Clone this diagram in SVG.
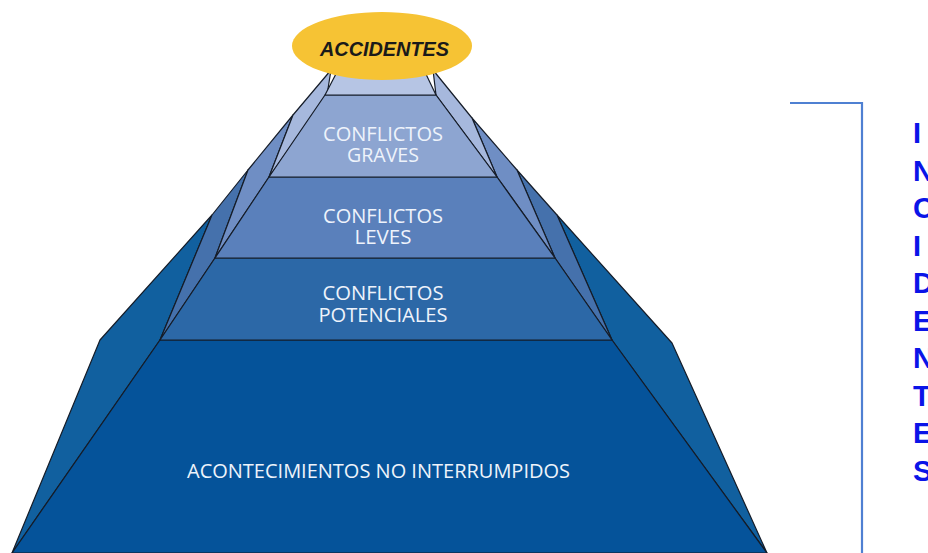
<svg xmlns="http://www.w3.org/2000/svg" width="928" height="553" viewBox="0 0 928 553">
<style>
.face{stroke:#151c28;stroke-width:1.2;stroke-linejoin:round}
.lbl{font-family:"Open Sans","Liberation Sans",sans-serif;font-size:20px;fill:#eef3fb;text-anchor:middle}
.side{font-family:"Liberation Sans",Arial,sans-serif;font-weight:bold;font-size:29px;fill:#0a14e8}
</style>
<rect width="928" height="553" fill="#ffffff"/>
<g id="layer-base">
<polygon class="face" fill="#11609f" points="160,340 212,215 100,340 12,553"/>
<polygon class="face" fill="#11609f" points="612,340 557,215 672,343 767,553"/>
<polygon class="face" fill="#05539a" points="160,340 612,340 767,553 12,553"/>
<text class="lbl" x="378.5" y="478" textLength="383" lengthAdjust="spacingAndGlyphs">ACONTECIMIENTOS NO INTERRUMPIDOS</text>
</g>
<g id="layer-potenciales">
<polygon class="face" fill="#4571ac" points="160,340 212,215 248,170 215,258"/>
<polygon class="face" fill="#4571ac" points="612,340 557,215 517,170 555,258"/>
<polygon class="face" fill="#2c68a7" points="215,258 555,258 612,340 160,340"/>
<text class="lbl" x="383" y="300" textLength="121" lengthAdjust="spacingAndGlyphs">CONFLICTOS</text>
<text class="lbl" x="383" y="322" textLength="129" lengthAdjust="spacingAndGlyphs">POTENCIALES</text>
</g>
<g id="layer-leves">
<polygon class="face" fill="#6f8ec4" points="215,258 248,170 293,115 269,177"/>
<polygon class="face" fill="#6f8ec4" points="555,258 517,170 472,118 497,177"/>
<polygon class="face" fill="#5a80bb" points="269,177 497,177 555,258 215,258"/>
<text class="lbl" x="383" y="223" textLength="120" lengthAdjust="spacingAndGlyphs">CONFLICTOS</text>
<text class="lbl" x="383" y="244" textLength="57" lengthAdjust="spacingAndGlyphs">LEVES</text>
</g>
<g id="layer-graves">
<polygon class="face" fill="#a6b8dd" points="269,177 293,115 331,70 327,95"/>
<polygon class="face" fill="#a6b8dd" points="497,177 472,118 433,70 436,95"/>
<polygon class="face" fill="#8da5d1" points="325,95 436,95 497,177 269,177"/>
<text class="lbl" x="383" y="141" textLength="120" lengthAdjust="spacingAndGlyphs">CONFLICTOS</text>
<text class="lbl" x="383" y="162" textLength="72" lengthAdjust="spacingAndGlyphs">GRAVES</text>
</g>
<g id="layer-top">
<polygon class="face" fill="#b6c5e4" points="338,70 424,70 436,95 325,95"/>
</g>
<g id="accidentes">
<ellipse cx="382" cy="46" rx="90" ry="34" fill="#f6c334"/>
<text x="384.5" y="56" font-family="Liberation Sans, Arial, sans-serif" font-size="21" font-weight="bold" font-style="italic" fill="#1a1a1a" text-anchor="middle" textLength="129" lengthAdjust="spacingAndGlyphs">ACCIDENTES</text>
</g>
<g id="connectors">
<polyline points="790,103 862,103 862,553" fill="none" stroke="#4f80d2" stroke-width="2.2"/>
</g>
<g id="incidentes">
<text class="side" x="913" y="143">I</text>
<text class="side" x="913" y="180.5">N</text>
<text class="side" x="913" y="218">C</text>
<text class="side" x="913" y="255.5">I</text>
<text class="side" x="913" y="293">D</text>
<text class="side" x="913" y="330.5">E</text>
<text class="side" x="913" y="368">N</text>
<text class="side" x="913" y="405.5">T</text>
<text class="side" x="913" y="443">E</text>
<text class="side" x="913" y="480.5">S</text>
</g>
</svg>
